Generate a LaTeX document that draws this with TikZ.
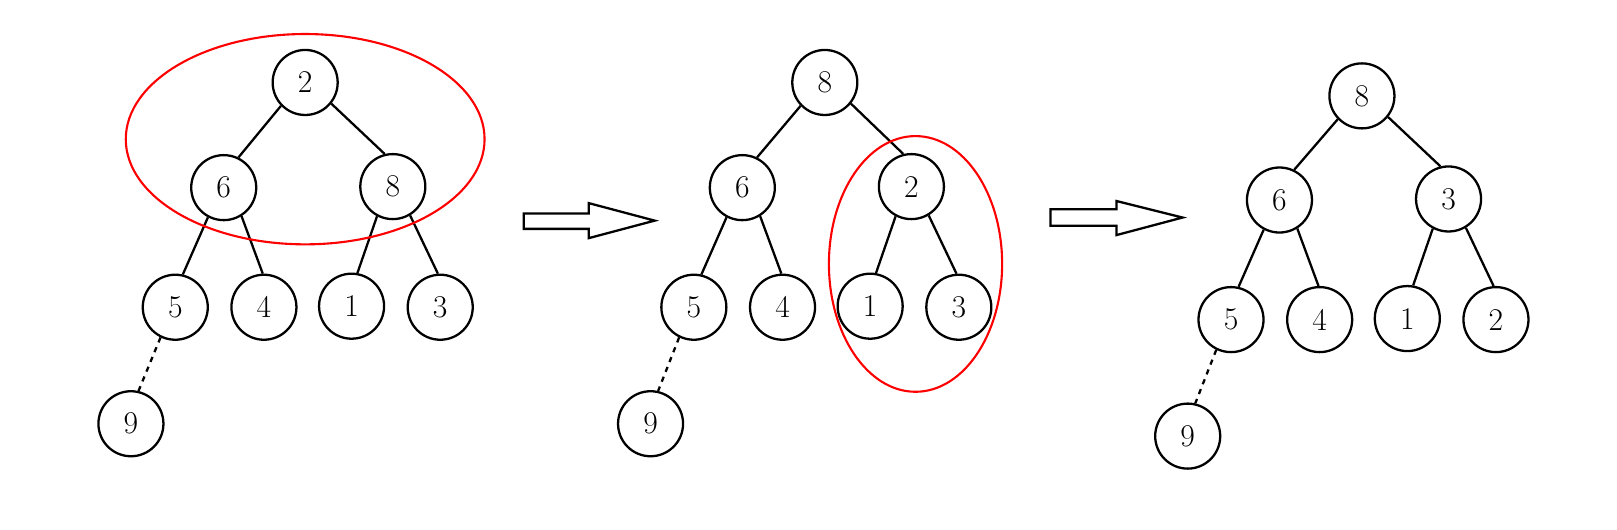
\documentclass[tikz,border=0pt]{standalone}
\begin{document}
\begin{tikzpicture}[x=0.020619cm,y=-0.020619cm,
  nd/.style={circle,draw,line width=1.3pt,minimum size=1.3cm,inner sep=0pt,font=\fontsize{18}{20}\selectfont},
  ed/.style={line width=1.3pt},
  ded/.style={line width=1.3pt,dashed},
  hl/.style={red,line width=1.2pt},
  bigarrow/.style={line width=1.3pt,fill=white}]
\useasboundingbox (0,0) rectangle (1568.4,514);
% Tree 1
\node[nd] (a2) at (296,80) {2};
\node[nd] (a6) at (217,182) {6};
\node[nd] (a8) at (381,181) {8};
\node[nd] (a5) at (170,298) {5};
\node[nd] (a4) at (256,298) {4};
\node[nd] (a1) at (341,297) {1};
\node[nd] (a3) at (427,298) {3};
\node[nd] (a9) at (127,411) {9};
\draw[ed] (a2.-136)--(a6.64); \draw[ed] (a2.-39)--(a8.104);
\draw[ed] (a6.-118)--(a5.77); \draw[ed] (a6.-58)--(a4.92);
\draw[ed] (a8.-118)--(a1.80); \draw[ed] (a8.-59)--(a3.94);
\draw[ded] (a5.-116)--(a9.77);
\draw[hl] (296,135) ellipse [x radius=174, y radius=102];
% Arrow 1
\draw[bigarrow] (508,207)--(571,207)--(571,197)--(635,214)--(571,231)--(571,222)--(508,222)--cycle;
% Tree 2
\node[nd] (b8) at (800,80) {8};
\node[nd] (b6) at (720,182) {6};
\node[nd] (b2) at (884,181) {2};
\node[nd] (b5) at (673,298) {5};
\node[nd] (b4) at (759,298) {4};
\node[nd] (b1) at (844,297) {1};
\node[nd] (b3) at (930,298) {3};
\node[nd] (b9) at (631,411) {9};
\draw[ed] (b8.-136)--(b6.64); \draw[ed] (b8.-39)--(b2.104);
\draw[ed] (b6.-118)--(b5.77); \draw[ed] (b6.-58)--(b4.92);
\draw[ed] (b2.-118)--(b1.80); \draw[ed] (b2.-59)--(b3.94);
\draw[ded] (b5.-116)--(b9.77);
\draw[hl] (888,256) ellipse [x radius=84, y radius=124];
% Arrow 2
\draw[bigarrow] (1019,203)--(1083,203)--(1083,195)--(1147,211)--(1083,228)--(1083,219)--(1019,219)--cycle;
% Tree 3
\node[nd] (c8) at (1321,93) {8};
\node[nd] (c6) at (1241,194) {6};
\node[nd] (c3) at (1405,193) {3};
\node[nd] (c5) at (1194,310) {5};
\node[nd] (c4) at (1280,310) {4};
\node[nd] (c1) at (1365,309) {1};
\node[nd] (c2) at (1451,310) {2};
\node[nd] (c9) at (1152,423) {9};
\draw[ed] (c8.-136)--(c6.64); \draw[ed] (c8.-39)--(c3.104);
\draw[ed] (c6.-118)--(c5.77); \draw[ed] (c6.-58)--(c4.92);
\draw[ed] (c3.-118)--(c1.80); \draw[ed] (c3.-59)--(c2.94);
\draw[ded] (c5.-116)--(c9.77);
\end{tikzpicture}
\end{document}
